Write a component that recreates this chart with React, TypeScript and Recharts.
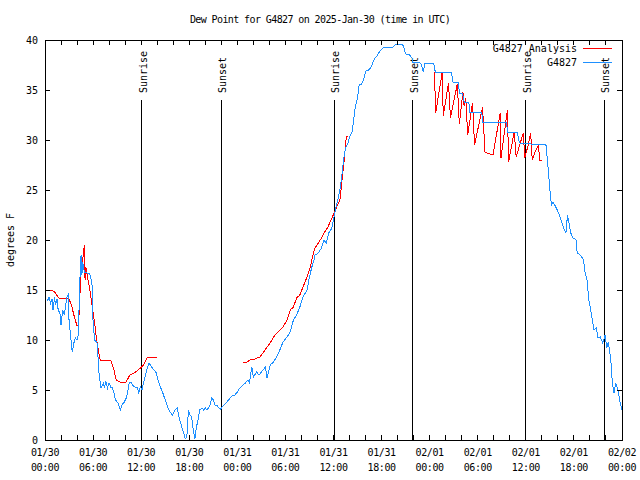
import React from 'react';
import { LineChart, Line, XAxis, YAxis, ReferenceLine, ReferenceArea } from 'recharts';

// hours since 01/30 00:00 UTC, dew point in F
const observed: [number, number][] = [
  [0.3, 13.9], [0.5, 14.3], [0.7, 13.7], [0.9, 14.1], [1.0, 13.0], [1.2, 14.3], [1.3, 13.5], [1.5, 14.1],
  [1.6, 13.2], [1.9, 12.5], [2.0, 11.5], [2.2, 13.0], [2.4, 12.5], [2.5, 13.0], [2.7, 14.2], [2.9, 14.5],
  [3.0, 12.0], [3.2, 10.3], [3.4, 8.8], [3.6, 9.7], [3.8, 10.2], [4.0, 10.0], [4.2, 10.7], [4.25, 13.3],
  [4.4, 17.0], [4.5, 18.5], [4.6, 16.5], [4.7, 17.8], [4.9, 16.8], [5.2, 16.7], [5.5, 16.7], [5.7, 16.3],
  [5.9, 15.3], [6.0, 11.7], [6.2, 10.0], [6.5, 9.7], [6.6, 8.5], [6.7, 7.0], [6.9, 5.7], [7.0, 5.2],
  [7.3, 5.7], [7.4, 5.2], [7.6, 5.8], [7.8, 5.2], [8.0, 5.7], [8.2, 5.3], [8.4, 5.3], [8.6, 4.7],
  [8.8, 4.0], [9.1, 3.7], [9.4, 3.0], [9.6, 3.5], [9.9, 3.8], [10.2, 4.3], [10.5, 5.7], [10.7, 5.8],
  [10.9, 5.5], [11.2, 5.3], [11.5, 5.3], [11.7, 4.7], [11.9, 5.3], [12.1, 5.0], [12.3, 5.7], [12.7, 7.0],
  [13.0, 7.7], [13.3, 7.3], [13.6, 7.0], [13.9, 6.7], [14.1, 6.0], [14.4, 5.3], [14.7, 4.7], [15.0, 4.0],
  [15.3, 3.3], [15.6, 2.8], [15.9, 2.5], [16.2, 3.0], [16.5, 3.2], [16.8, 2.0], [17.0, 1.5], [17.3, 0.7],
  [17.5, 0.1], [17.7, 0.3], [17.9, 3.0], [18.1, 2.5], [18.3, 2.3], [18.5, 1.0], [18.7, 0.1], [18.9, 1.3],
  [19.1, 2.0], [19.3, 3.0], [19.6, 3.2], [19.8, 3.0], [20.0, 3.2], [20.2, 3.0], [20.4, 3.2], [20.6, 3.5],
  [20.8, 4.2], [21.0, 4.0], [21.2, 3.5], [21.4, 3.5], [21.6, 3.3], [21.9, 3.1], [22.2, 3.4], [22.6, 3.7],
  [22.9, 4.0], [23.3, 4.4], [23.7, 4.5], [24.0, 4.8], [24.3, 5.2], [24.7, 5.5], [25.0, 5.7], [25.3, 6.0],
  [25.5, 5.7], [25.8, 7.3], [26.0, 6.3], [26.4, 6.8], [26.7, 6.5], [27.0, 6.8], [27.5, 7.3], [27.7, 6.2],
  [28.1, 7.5], [28.5, 7.8], [28.9, 8.3], [29.3, 9.0], [29.7, 9.8], [30.2, 10.3], [30.6, 10.8], [31.0, 12.0],
  [31.4, 12.5], [31.8, 13.3], [32.2, 14.3], [32.7, 15.0], [33.0, 16.3], [33.3, 17.3], [33.5, 17.8], [33.7, 18.5],
  [34.1, 18.7], [34.5, 19.2], [34.8, 20.0], [35.1, 19.7], [35.4, 20.7], [35.8, 21.2], [36.0, 22.0], [36.2, 22.9],
  [36.6, 24.2], [36.9, 25.5], [37.1, 26.9], [37.3, 28.2], [37.5, 29.2], [37.8, 29.7], [38.1, 30.5], [38.3, 30.7],
  [38.5, 31.9], [38.7, 33.2], [39.0, 34.2], [39.2, 35.5], [39.5, 35.6], [39.7, 35.9], [39.9, 36.5], [40.1, 37.0],
  [40.3, 36.9], [40.6, 37.2], [40.8, 37.5], [41.0, 37.9], [41.2, 38.2], [41.5, 38.5], [41.8, 38.9], [42.2, 39.2],
  [42.8, 39.3], [43.4, 39.3], [43.7, 39.5], [44.3, 39.6], [44.6, 39.6], [44.8, 39.2], [45.0, 38.6], [45.5, 38.5],
  [45.8, 38.2], [45.9, 37.8], [46.3, 37.8], [46.8, 37.7], [47.0, 37.5], [47.2, 36.8], [47.4, 37.7], [48.5, 37.7],
  [48.7, 36.8], [50.7, 36.8], [50.9, 35.8], [51.6, 35.7], [51.7, 34.7], [52.1, 34.7], [52.3, 33.8], [52.9, 33.7],
  [53.0, 32.8], [54.5, 32.8], [54.6, 31.8], [57.6, 31.8], [57.7, 30.8], [58.9, 30.8], [59.1, 30.1], [59.2, 29.7],
  [60.7, 29.6], [62.5, 29.6], [62.6, 28.8], [62.8, 27.0], [63.0, 25.0], [63.2, 23.5], [63.4, 23.8], [63.8, 23.2],
  [64.2, 22.5], [64.5, 21.7], [64.8, 21.0], [65.0, 20.7], [65.2, 22.5], [65.4, 21.7], [65.6, 20.7], [65.9, 20.2],
  [66.3, 20.0], [66.4, 18.7], [66.8, 18.5], [67.2, 18.0], [67.4, 16.7], [67.7, 15.8], [67.8, 14.3], [68.1, 13.0],
  [68.3, 12.0], [68.5, 11.0], [68.8, 11.2], [69.0, 10.2], [69.3, 10.3], [69.6, 9.7], [69.9, 10.5], [70.1, 9.2],
  [70.3, 9.8], [70.6, 8.0], [70.8, 5.7], [71.0, 4.7], [71.2, 5.7], [71.5, 5.0], [71.7, 4.0], [72.0, 3.0],
];

// analysis, null = gap
const analysis: [number, number | null][] = [
  [0.0, 15.0], [0.9, 15.0], [1.3, 14.7], [1.7, 14.2], [3.0, 14.1], [3.3, 13.5], [3.6, 12.5], [4.0, 11.4],
  [4.2, 11.5], [4.3, 13.7], [4.5, 16.7], [4.8, 18.7], [4.9, 19.5], [5.0, 16.0], [5.1, 17.3], [5.3, 16.3],
  [5.6, 15.0], [5.9, 13.3], [6.2, 11.7], [6.4, 10.3], [6.7, 8.7], [6.9, 8.0], [8.2, 8.0], [8.6, 7.0],
  [8.9, 6.0], [9.4, 5.8], [10.1, 5.8], [10.6, 6.5], [11.3, 6.8], [11.9, 7.2], [12.3, 7.5], [12.7, 8.2],
  [13.3, 8.3], [14.0, 8.3], [19.0, null],
  [24.7, 7.7], [25.2, 7.8], [25.6, 8.0], [26.2, 8.1], [26.8, 8.3], [27.2, 8.7], [27.7, 9.3], [28.1, 9.7],
  [28.7, 10.5], [29.3, 11.0], [29.7, 11.3], [30.2, 12.0], [30.6, 13.0], [31.0, 13.3], [31.4, 14.2], [31.8, 14.5],
  [32.2, 15.3], [32.7, 16.3], [33.1, 17.3], [33.5, 18.7], [33.7, 19.2], [34.1, 19.7], [34.5, 20.2], [34.9, 20.8],
  [35.3, 21.3], [35.8, 22.2], [36.4, 23.3], [36.8, 24.0], [37.0, 25.5], [37.2, 27.0], [37.4, 28.5], [37.6, 30.4],
  [37.8, 30.4], [43.0, null],
  [48.6, 36.8], [48.75, 32.7], [49.55, 36.7], [49.7, 32.4], [50.35, 35.7], [50.6, 32.2], [51.45, 35.6], [51.7, 31.6],
  [52.15, 34.8], [52.3, 33.4], [52.5, 34.2], [52.75, 30.5], [53.35, 33.7], [53.6, 29.5], [54.6, 33.3], [54.9, 28.8],
  [55.2, 28.7], [55.9, 28.5], [56.8, 32.7], [56.9, 28.2], [57.7, 33.0], [57.85, 27.8], [58.55, 30.8], [58.8, 28.3],
  [59.3, 29.7], [59.7, 30.7], [59.85, 28.2], [60.3, 29.5], [60.6, 30.7], [60.8, 28.0], [61.1, 28.7], [61.6, 29.5],
  [61.7, 28.0], [62.0, 28.0],
];

const sunTimes = [12.1, 22.0, 36.1, 45.9, 60.0, 69.8];
const sunNames = ['Sunrise', 'Sunset', 'Sunrise', 'Sunset', 'Sunrise', 'Sunset'];
const dayLabels = ['01/30', '01/30', '01/30', '01/30', '01/31', '01/31', '01/31', '01/31', '02/01', '02/01', '02/01', '02/01', '02/02'];
const hourLabels = ['00:00', '06:00', '12:00', '18:00'];
const xTicks = Array.from({ length: 37 }, (_, i) => i * 2);
const yTicks = [0, 5, 10, 15, 20, 25, 30, 35, 40];

const FONT = "'DejaVu Sans Mono', monospace";
const PLOT_W = 577;
const PLOT_H = 400;

const obsData = observed.map(([t, v]) => ({ t, v }));
const anaData = analysis.map(([t, v]) => ({ t, v }));

const XTick = ({ x, y, payload }: any) => {
  const h = payload.value;
  const major = h % 6 === 0;
  return (
    <g shapeRendering="crispEdges">
      <line x1={x} x2={x} y1={y} y2={y - 5} stroke="#000" />
      <line x1={x} x2={x} y1={y - PLOT_H} y2={y - PLOT_H + 5} stroke="#000" />
      {major && (
        <text x={x} y={y} textAnchor="middle" fontFamily={FONT} fontSize={10} letterSpacing={-0.4} fill="#000">
          <tspan x={x} dy={16}>{dayLabels[h / 6]}</tspan>
          <tspan x={x} dy={15}>{hourLabels[(h / 6) % 4]}</tspan>
        </text>
      )}
    </g>
  );
};

const YTick = ({ x, y, payload }: any) => (
  <g shapeRendering="crispEdges">
    <line x1={x} x2={x + 5} y1={y} y2={y} stroke="#000" />
    <line x1={x + PLOT_W} x2={x + PLOT_W - 5} y1={y} y2={y} stroke="#000" />
    <text x={x - 7} y={y + 4} textAnchor="end" fontFamily={FONT} fontSize={10} fill="#000">{payload.value}</text>
  </g>
);

const SunLabel = ({ viewBox, text }: any) => {
  const tx = viewBox.x + 5;
  const ty = viewBox.y - 7;
  return (
    <text x={tx} y={ty} transform={`rotate(-90, ${tx}, ${ty})`} fontFamily={FONT} fontSize={10} fill="#000">{text}</text>
  );
};

export default function App() {
  return (
    <div style={{ position: 'absolute', left: 0, top: 0, width: 640, height: 480, background: '#fff' }}>
      <LineChart width={640} height={480} margin={{ top: 40, right: 18, bottom: 0, left: 10 }}>
        <XAxis dataKey="t" type="number" domain={[0, 72]} ticks={xTicks} interval={0} height={40}
          tick={<XTick />} tickSize={0} tickMargin={0} tickLine={false} axisLine={false} allowDataOverflow />
        <YAxis type="number" domain={[0, 40]} ticks={yTicks} interval={0} width={35}
          tick={<YTick />} tickSize={0} tickMargin={0} tickLine={false} axisLine={false} allowDataOverflow />
        <ReferenceArea x1={0} x2={72} y1={0} y2={40} fill="none" stroke="#000" strokeWidth={1} shapeRendering="crispEdges" />
        {sunTimes.map((t, i) => (
          <ReferenceLine key={i} segment={[{ x: t, y: 0 }, { x: t, y: 34 }]} stroke="#000" shapeRendering="crispEdges"
            label={<SunLabel text={sunNames[i]} />} />
        ))}
        <Line data={anaData} dataKey="v" type="linear" stroke="#ff0000" strokeWidth={1} dot={false}
          isAnimationActive={false} connectNulls={false} name="G4827 Analysis" shapeRendering="crispEdges" />
        <Line data={obsData} dataKey="v" type="linear" stroke="#1e90ff" strokeWidth={1} dot={false}
          isAnimationActive={false} name="G4827" shapeRendering="crispEdges" />
      </LineChart>
      <svg width={640} height={480} style={{ position: 'absolute', left: 0, top: 0, pointerEvents: 'none' }}>
        <text x={320} y={23} textAnchor="middle" fontFamily={FONT} fontSize={10} letterSpacing={-0.6} fill="#000">
          Dew Point for G4827 on 2025-Jan-30 (time in UTC)
        </text>
        <text x={14} y={240} transform="rotate(-90, 14, 240)" textAnchor="middle" fontFamily={FONT} fontSize={10} fill="#000">
          degrees F
        </text>
        <text x={577} y={52} textAnchor="end" fontFamily={FONT} fontSize={10} fill="#000">G4827 Analysis</text>
        <line x1={583} x2={612} y1={48.5} y2={48.5} stroke="#ff0000" />
        <text x={577} y={66} textAnchor="end" fontFamily={FONT} fontSize={10} fill="#000">G4827</text>
        <line x1={583} x2={612} y1={62.5} y2={62.5} stroke="#1e90ff" />
      </svg>
    </div>
  );
}
